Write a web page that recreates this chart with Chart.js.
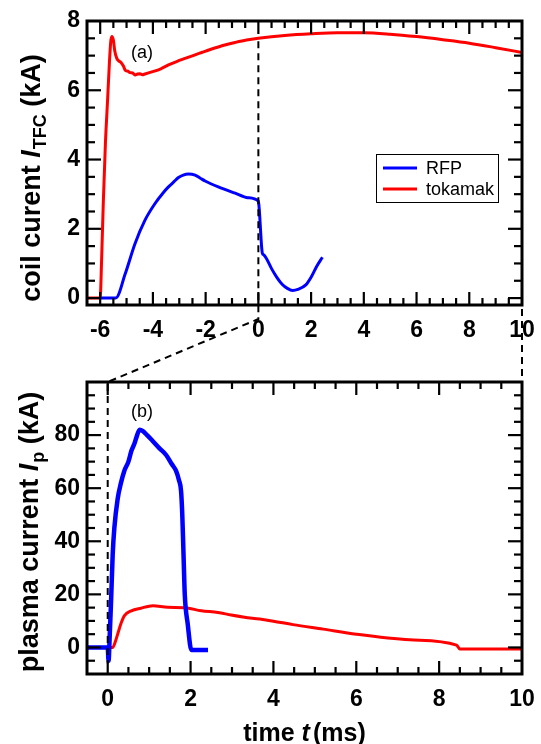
<!DOCTYPE html>
<html><head><meta charset="utf-8">
<script src="https://cdn.jsdelivr.net/npm/chart.js@4/dist/chart.umd.min.js"></script>
<style>
html,body{margin:0;padding:0;background:#fff;width:541px;height:744px;overflow:hidden}
canvas{position:absolute;left:0}
#c1{top:0}
#c2{top:345px}
#ov{top:0;pointer-events:none}
</style></head><body>
<canvas id="c1" width="541" height="345"></canvas>
<canvas id="c2" width="541" height="399"></canvas>
<canvas id="ov" width="541" height="744"></canvas>
<script>
// ---- data ----
const seriesNames = ['RFP', 'tokamak'];

// (a) coil current I_TFC (kA) vs time (ms)
const rfpCoilT = [-6.0, -5.41, -5.05, -4.68, -4.3, -3.92, -3.6, -3.41, -3.2, -3.03, -2.85, -2.65, -2.4, -2.2, -2.02, -1.52, -0.88, -0.4, 0, 0.03, 0.15, 0.2, 0.3, 0.5, 0.7, 0.9, 1.1, 1.3, 1.5, 1.8, 2.0, 2.2, 2.43];
const rfpCoilI = [0, 0, 0.7, 1.57, 2.25, 2.73, 3.05, 3.21, 3.36, 3.48, 3.55, 3.58, 3.55, 3.46, 3.38, 3.21, 3.03, 2.9, 2.8, 2.6, 1.3, 1.25, 1.15, 0.85, 0.6, 0.4, 0.28, 0.22, 0.25, 0.38, 0.6, 0.9, 1.18];
const tokCoilT = [-6.5, -6.0, -5.95, -5.88, -5.8, -5.72, -5.65, -5.6, -5.56, -5.5, -5.45, -5.37, -5.3, -5.21, -5.12, -5.05, -4.95, -4.87, -4.77, -4.67, -4.58, -4.49, -4.4, -4.3, -4.04, -3.7, -3.41, -3.1, -2.78, -2.45, -2.15, -1.85, -1.52, -1.2, -0.88, -0.45, 0, 1, 2, 3, 4, 5, 6, 7, 8, 9, 10];
const tokCoilI = [0, 0, 1.0, 2.8, 4.5, 5.7, 6.8, 7.4, 7.55, 7.45, 7.15, 6.92, 6.85, 6.8, 6.7, 6.58, 6.55, 6.51, 6.5, 6.44, 6.47, 6.48, 6.45, 6.47, 6.53, 6.62, 6.73, 6.83, 6.92, 7.01, 7.09, 7.17, 7.25, 7.32, 7.38, 7.45, 7.5, 7.58, 7.63, 7.66, 7.66, 7.62, 7.55, 7.46, 7.36, 7.23, 7.09];

// (b) plasma current I_p (kA) vs time (ms)
const rfpPlasmaT = [-0.5, 0, 0.02, 0.05, 0.08, 0.12, 0.16, 0.24, 0.32, 0.4, 0.5, 0.57, 0.65, 0.69, 0.77, 0.85, 0.95, 1.09, 1.25, 1.41, 1.55, 1.65, 1.72, 1.77, 1.8, 1.83, 1.86, 1.93, 2.02, 2.42];
const rfpPlasmaI = [0, 0, -5, 5, 17, 35, 45, 56, 62, 66.5, 70, 74, 77, 79, 82, 81.5, 80, 77.7, 75, 72.5, 69, 66.5, 63, 59, 50, 35, 20, 9, -1, -1];
const tokPlasmaT = [-0.5, 0.12, 0.18, 0.24, 0.32, 0.4, 0.57, 0.8, 1.09, 1.45, 1.85, 2.26, 2.66, 2.98, 3.3, 3.67, 4.0, 4.47, 5.2, 6.0, 7.29, 8.42, 8.5, 10];
const tokPlasmaI = [0, 0, 2, 5, 9, 11.9, 13.8, 14.8, 15.7, 15.1, 15, 13.8, 13.2, 12.2, 11.4, 10.7, 9.9, 8.6, 6.9, 5.0, 2.9, 0.9, -0.6, -0.6];

// tick labels
const coilXTicks = [-6, -4, -2, 0, 2, 4, 6, 8, 10];
const coilYTicks = [0, 2, 4, 6, 8];
const plasmaXTicks = [0, 2, 4, 6, 8, 10];
const plasmaYTicks = [0, 20, 40, 60, 80];

// ---- helpers ----
const F = '"Liberation Sans", Arial, Helvetica, sans-serif';
const toXY = (t, v) => t.map((x, i) => ({x: x, y: v[i]}));
const RED = '#ff0000', BLUE = '#0000ff';

function drawRich(ctx, segs, cx, cy, rot) {
  ctx.save();
  ctx.translate(cx, cy);
  if (rot) ctx.rotate(rot);
  let w = 0;
  segs.forEach(s => { ctx.font = s.font; s.w = ctx.measureText(s.text).width + (s.gap || 0); w += s.w; });
  let x = -w / 2;
  ctx.textBaseline = 'alphabetic'; ctx.textAlign = 'left'; ctx.fillStyle = '#000';
  segs.forEach(s => { ctx.font = s.font; ctx.fillText(s.text, x, (s.dy || 0)); x += s.w; });
  ctx.restore();
}

const framePlugin = {
  id: 'frame',
  afterDraw(chart, args, o) {
    const {ctx, chartArea: a, scales: {x, y}} = chart;
    ctx.save();
    ctx.strokeStyle = '#000';
    ctx.lineWidth = 2.2;
    const seg = (x1, y1, x2, y2) => { ctx.beginPath(); ctx.moveTo(x1, y1); ctx.lineTo(x2, y2); ctx.stroke(); };
    const isMajor = (v, m) => Math.abs(v / m - Math.round(v / m)) < 1e-6;
    for (let i = 0; ; i++) {
      const v = o.xFrom + i * o.xMinor; if (v > x.max + 1e-9) break;
      const px = x.getPixelForValue(v);
      if (px < a.left + 2 || px > a.right - 2) continue;
      const L = isMajor(v, o.xMajor) ? 13 : 7;
      seg(px, a.bottom, px, a.bottom - L);
      seg(px, a.top, px, a.top + L);
    }
    for (let i = 0; ; i++) {
      const v = o.yFrom + i * o.yMinor; if (v > y.max + 1e-9) break;
      const py = y.getPixelForValue(v);
      if (py > a.bottom - 2 || py < a.top + 2) continue;
      const L = isMajor(v, o.yMajor) ? 14 : 8;
      seg(a.left, py, a.left + L, py);
      seg(a.right, py, a.right - L, py);
    }
    ctx.lineWidth = 3;
    ctx.strokeRect(a.left, a.top, a.right - a.left, a.bottom - a.top);
    ctx.restore();
  }
};

const topDecor = {
  id: 'topDecor',
  afterDraw(chart) {
    const {ctx, chartArea: a} = chart;
    ctx.save();
    ctx.fillStyle = '#000';
    ctx.font = '18px ' + F; ctx.textAlign = 'center'; ctx.textBaseline = 'middle';
    ctx.fillText('(a)', a.left + 55, a.top + 32);
    // legend
    const bx = a.right - 146, by = a.top + 133, bw = 122, bh = 48;
    ctx.lineWidth = 1; ctx.strokeStyle = '#000';
    ctx.strokeRect(bx + 0.5, by + 0.5, bw, bh);
    chart.data.datasets.forEach((d, i) => {
      const yy = by + 14 + i * 21;
      ctx.strokeStyle = d.borderColor; ctx.lineWidth = 3;
      ctx.beginPath(); ctx.moveTo(bx + 7, yy); ctx.lineTo(bx + 41, yy); ctx.stroke();
      ctx.fillStyle = '#000'; ctx.textAlign = 'left'; ctx.font = '18px ' + F;
      ctx.fillText(d.label, bx + 50, yy + 1);
    });
    ctx.restore();
    const B = 'bold 27px ' + F;
    drawRich(ctx, [
      {text: 'coil curent ', font: B, dy: 9},
      {text: 'I', font: 'italic ' + B, gap: 1, dy: 9},
      {text: 'TFC', font: 'bold 18px ' + F, dy: 15},
      {text: ' (kA)', font: B, dy: 9}
    ], 31, 178, -Math.PI / 2);
  }
};

const botDecor = {
  id: 'botDecor',
  afterDraw(chart) {
    const {ctx, chartArea: a} = chart;
    ctx.save();
    ctx.fillStyle = '#000';
    ctx.font = '18px ' + F; ctx.textAlign = 'center'; ctx.textBaseline = 'middle';
    ctx.fillText('(b)', a.left + 55, a.top + 30);
    ctx.restore();
    const B = 'bold 27px ' + F;
    drawRich(ctx, [
      {text: 'plasma current ', font: B, dy: 7},
      {text: 'I', font: 'italic ' + B, gap: 1, dy: 7},
      {text: 'p', font: 'bold 18px ' + F, dy: 13},
      {text: ' (kA)', font: B, dy: 7}
    ], 31, 532 - 345, -Math.PI / 2);
    const X = 'bold 25px ' + F;
    drawRich(ctx, [
      {text: 'time ', font: X},
      {text: 't', font: 'italic ' + X, gap: 3},
      {text: '(ms)', font: X}
    ], (a.left + a.right) / 2, a.bottom + 67, 0);
  }
};

function makeChart(el, sets, xr, yr, xt, yt, pad, xH, frameOpts, decor) {
  return new Chart(el, {
    type: 'line',
    data: {datasets: sets},
    options: {
      responsive: false, animation: false, events: [],
      layout: {padding: pad},
      elements: {point: {radius: 0}},
      plugins: {legend: {display: false}, tooltip: {enabled: false}, frame: frameOpts},
      scales: {
        x: {type: 'linear', min: xr[0], max: xr[1],
            grid: {display: false, drawTicks: false}, border: {display: false},
            afterBuildTicks: s => { s.ticks = xt.map(v => ({value: v})); },
            afterFit: s => { s.height = xH; s.paddingLeft = 0; s.paddingRight = 0; },
            ticks: {font: {family: F, size: 23, weight: 'bold'}, color: '#000', padding: 12,
                    maxRotation: 0, autoSkip: false, callback: v => String(v)}},
        y: {type: 'linear', min: yr[0], max: yr[1],
            grid: {display: false, drawTicks: false}, border: {display: false},
            afterBuildTicks: s => { s.ticks = yt.map(v => ({value: v})); },
            afterFit: s => { s.width = 87; s.paddingTop = 0; s.paddingBottom = 0; },
            ticks: {font: {family: F, size: 23, weight: 'bold'}, color: '#000', padding: 7,
                    autoSkip: false, callback: v => String(v)}}
      }
    },
    plugins: [framePlugin, decor]
  });
}

const line = (label, t, v, color, w) => ({label: label, data: toXY(t, v), borderColor: color, backgroundColor: color,
  borderWidth: w, fill: false, cubicInterpolationMode: 'monotone', pointRadius: 0});

const topChart = makeChart(document.getElementById('c1'),
  [line(seriesNames[0], rfpCoilT, rfpCoilI, BLUE, 3), line(seriesNames[1], tokCoilT, tokCoilI, RED, 3)],
  [-6.5, 10], [-0.2, 8], coilXTicks, coilYTicks,
  {left: 0, top: 21, right: 19, bottom: 0}, 40,
  {xFrom: -6.5, xMinor: 0.5, xMajor: 2, yFrom: 0, yMinor: 0.5, yMajor: 2}, topDecor);

const botChart = makeChart(document.getElementById('c2'),
  [line(seriesNames[0], rfpPlasmaT, rfpPlasmaI, BLUE, 4.5), line(seriesNames[1], tokPlasmaT, tokPlasmaI, RED, 3)],
  [-0.5, 10], [-10, 100], plasmaXTicks, plasmaYTicks,
  {left: 0, top: 37, right: 19, bottom: 0}, 70,
  {xFrom: -0.5, xMinor: 0.5, xMajor: 2, yFrom: -10, yMinor: 5, yMajor: 20}, botDecor);

// ---- overlay: dashed guide lines through both panels ----
(function () {
  const ov = document.getElementById('ov').getContext('2d');
  const off2 = 345;
  const tx = topChart.scales.x, ty = topChart.scales.y, ta = topChart.chartArea;
  const bx = botChart.scales.x, by = botChart.scales.y, ba = botChart.chartArea;
  ov.strokeStyle = '#000'; ov.lineWidth = 2; ov.setLineDash([7, 5]);
  const x0t = tx.getPixelForValue(0), x0b = bx.getPixelForValue(0);
  const yStart = ty.getPixelForValue(tokCoilI[tokCoilT.indexOf(0)]) + 3;
  const yKnee = ta.bottom + 14;
  ov.beginPath(); ov.moveTo(x0t, yStart); ov.lineTo(x0t, yKnee); ov.lineTo(x0b, ba.top + off2); ov.stroke();
  ov.beginPath(); ov.moveTo(x0b, ba.top + off2 + 2); ov.lineTo(x0b, by.getPixelForValue(-6) + off2); ov.stroke();
  const x10t = tx.getPixelForValue(10), x10b = bx.getPixelForValue(10);
  ov.beginPath(); ov.moveTo(x10t, ta.bottom + 4); ov.lineTo(x10b, ba.top + off2); ov.stroke();
})();
</script>
</body></html>
